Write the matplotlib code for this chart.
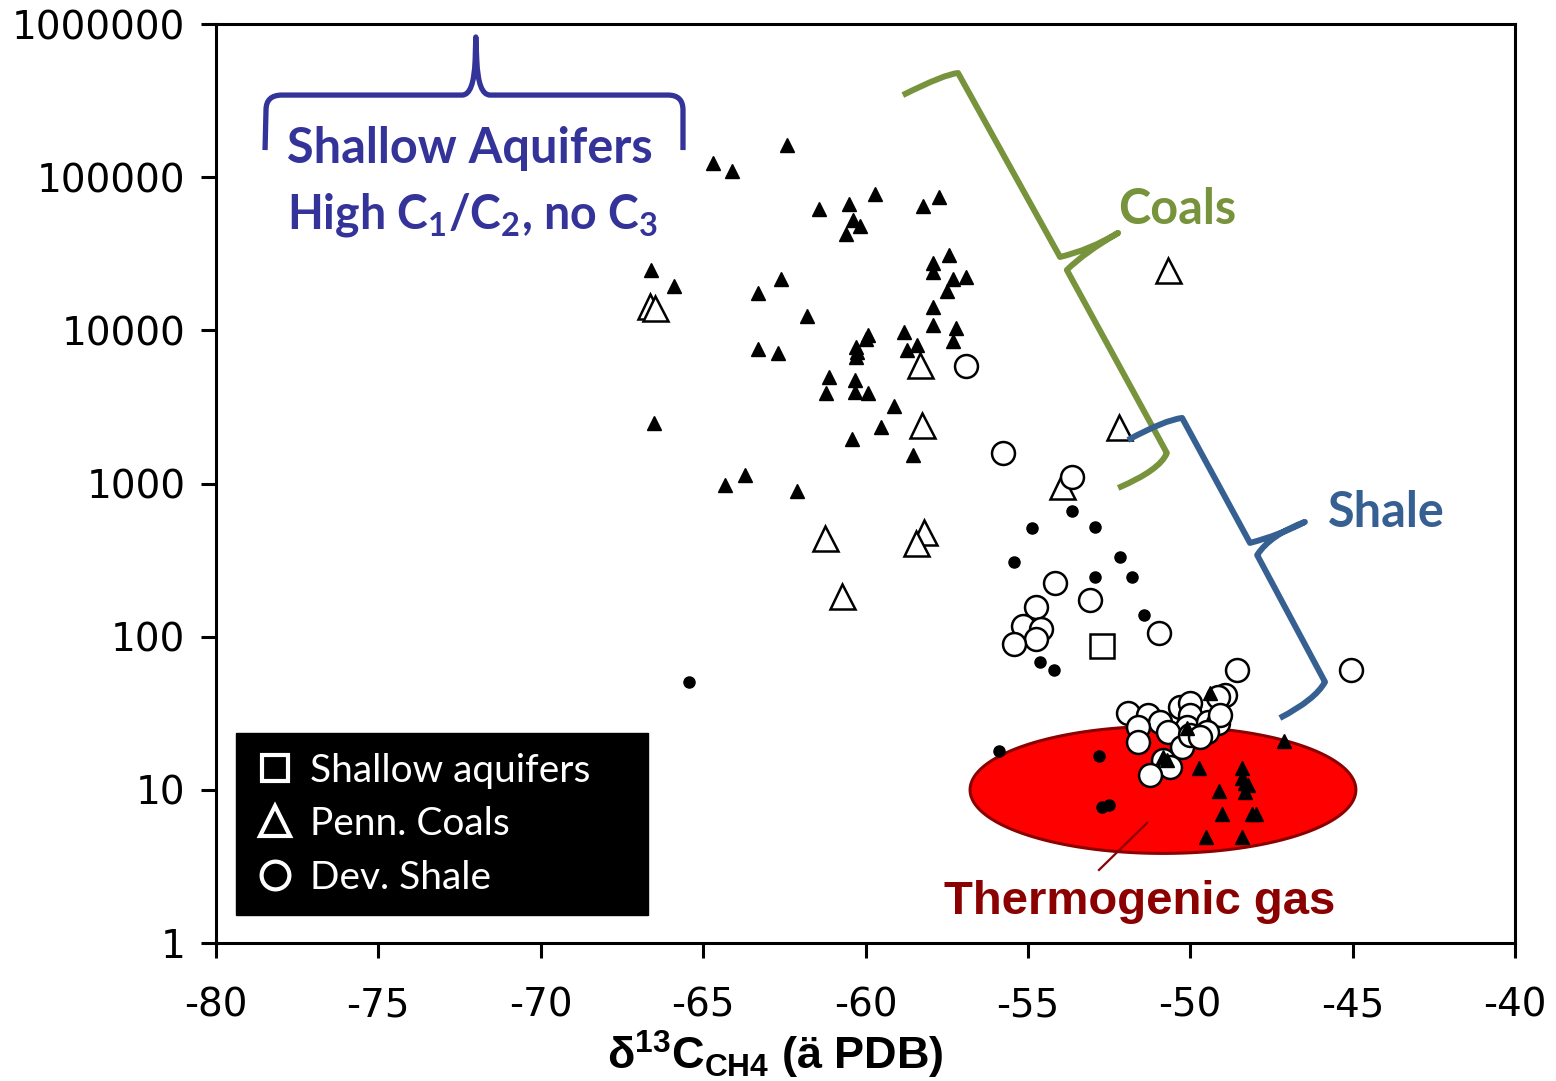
import numpy as np
import matplotlib
matplotlib.use("Agg")
import matplotlib.pyplot as plt
from matplotlib.lines import Line2D
from matplotlib.path import Path
from matplotlib.patches import PathPatch
from matplotlib.ticker import FixedLocator, FuncFormatter, NullLocator

plt.rcParams["axes.unicode_minus"] = False
plt.rcParams["mathtext.fontset"] = "custom"
plt.rcParams["mathtext.rm"] = "Lato:bold"
plt.rcParams["mathtext.bf"] = "Lato:bold"
plt.rcParams["mathtext.it"] = "Lato:bold:italic"
plt.rcParams["mathtext.sf"] = "Liberation Sans:bold"

# --- data: d13C of methane (x) vs C1/(C2+C3) ratio (y) ---
# small filled triangles
tri_x = [-62.42, -64.70, -64.11, -59.71, -61.43, -60.51, -60.38, -60.17, -60.60, -58.23,
         -57.74, -66.60, -65.90, -62.60, -63.31, -61.80, -63.31, -62.69, -57.43, -57.92,
         -57.92, -57.31, -56.91, -57.49, -57.92, -57.92, -57.21, -57.31, -58.81, -58.41,
         -58.72, -59.92, -59.98, -60.29, -60.26, -60.29, -61.12, -61.22, -60.32, -60.32,
         -59.92, -59.12, -59.52, -60.42, -58.54, -66.51, -64.33, -63.71, -62.11,
         -47.11, -49.73, -48.41, -48.41, -48.31, -48.22, -48.31, -49.11, -49.02, -48.10,
         -47.98, -49.51, -48.41, -49.39, -50.10, -50.84, -50.72]
tri_y = [162000, 123800, 109700, 77600, 62000, 66800, 52500, 48000, 42600, 64800,
         74200, 24800, 19500, 21600, 17500, 12400, 7560, 7110, 31000, 27500,
         24000, 21600, 22300, 18100, 14200, 10800, 10400, 8520, 9760, 8020,
         7440, 9330, 8780, 7780, 7220, 6700, 4960, 3900, 4740, 3960,
         3900, 3210, 2340, 1950, 1530, 2480, 977, 1140, 893,
         20.8, 13.9, 13.9, 11.9, 11.1, 10.8, 9.7, 9.8, 6.96, 6.96,
         6.96, 4.92, 4.92, 42.9, 25.4, 16.4, 15.7]

# small filled dots
dot_x = [-65.43, -53.64, -54.87, -52.93, -55.43, -52.16, -52.93, -51.79, -51.42, -54.63,
         -54.20, -55.89, -52.81, -52.72, -52.50]
dot_y = [50.6, 661, 513, 520, 307, 331, 245, 245, 139, 68.4,
         60.6, 17.9, 16.6, 7.73, 7.96]

# Penn. Coals (open triangles)
coal_x = [-66.64, -66.48, -58.32, -58.26, -61.25, -58.20, -58.44, -60.72, -53.95, -52.19, -50.68]
coal_y = [14400, 14000, 5940, 2410, 441, 482, 409, 184, 963, 2340, 24800]

# Dev. Shale (open circles)
shale_x = [-56.91, -55.77, -53.64, -54.16, -53.09, -54.75, -55.15, -54.60, -54.75, -55.43,
           -50.96, -48.56, -45.05,
           -48.93, -49.15, -51.92, -51.30, -50.93, -51.61, -50.32, -50.01, -50.01, -50.10,
           -49.45, -49.15, -49.08, -49.48, -50.68, -51.61, -50.25, -50.01, -49.70, -50.84,
           -50.62, -51.24]
shale_y = [5850, 1580, 1100, 224, 173, 156, 117, 112, 96.6, 89.6,
           106, 60.6, 60.6,
           41.6, 40.4, 31.8, 30.8, 27.7, 25.7, 34.8, 36.9, 30.8, 25.7,
           27.7, 27.3, 30.8, 23.9, 23.9, 20.5, 19.0, 22.8, 22.1, 15.7,
           14.1, 12.5]

# Shallow aquifers (open square)
aq_x = [-52.72]
aq_y = [86.9]

x_ticks = [-80, -75, -70, -65, -60, -55, -50, -45, -40]
y_ticks = [1, 10, 100, 1000, 10000, 100000, 1000000]
legend_labels = ["Shallow aquifers", "Penn. Coals", "Dev. Shale"]

# bracket outlines: (d13C, log10 ratio)
M, L, Q = Path.MOVETO, Path.LINETO, Path.CURVE3
aq_brace = [(-78.49, 5.177), (-78.46, 5.439), (-78.46, 5.536), (-77.97, 5.536), (-72.42, 5.536),
            (-72.06, 5.536), (-72.02, 5.765), (-72.00, 5.915), (-71.97, 5.765), (-71.93, 5.536),
            (-71.56, 5.536), (-66.08, 5.536), (-65.62, 5.536), (-65.62, 5.439), (-65.62, 5.177)]
aq_codes = [M, L, Q, Q, L, Q, Q, L, L, Q, Q, L, Q, Q, L]
coal_brace = [(-58.85, 5.536), (-57.55, 5.674), (-57.15, 5.680), (-54.01, 4.479), (-53.09, 4.525),
              (-52.22, 4.636), (-53.24, 4.511), (-53.80, 4.394), (-50.72, 3.199), (-50.93, 3.088),
              (-52.22, 2.971)]
shale_brace = [(-51.92, 3.284), (-50.78, 3.415), (-50.25, 3.428), (-48.16, 2.612), (-47.23, 2.664),
               (-46.47, 2.749), (-47.54, 2.664), (-47.94, 2.533), (-45.85, 1.704), (-46.16, 1.587),
               (-47.24, 1.469)]
curly_codes = [M, Q, Q, L, Q, Q, Q, Q, L, Q, Q]

fig = plt.figure(figsize=(15.56, 10.81), dpi=100)
ax = fig.add_axes([216 / 1556, 1 - 943 / 1081, 1299 / 1556, 919 / 1081])
ax.set_yscale("log")
ax.set_xlim(-80, -40)
ax.set_ylim(1, 1e6)

# thermogenic gas ellipse
t = np.linspace(0, 2 * np.pi, 200)
ax.fill(-50.84 + 5.94 * np.cos(t), 10 ** (1.0 + 0.415 * np.sin(t)),
        fc="#ff0000", ec="#8b0000", lw=2.2, zorder=1)
ax.plot([-52.81, -51.33], [10 ** 0.477, 10 ** 0.7835], color="#8b0000", lw=1.6, zorder=1)

ax.plot(dot_x, dot_y, ls="none", marker="o", ms=8, color="black", zorder=3)
ax.plot(coal_x, coal_y, ls="none", marker="^", ms=18, mfc="white", mec="black", mew=1.8, zorder=4)
ax.plot(shale_x, shale_y, ls="none", marker="o", ms=16.5, mfc="white", mec="black", mew=1.8, zorder=4)
ax.plot(aq_x, aq_y, ls="none", marker="s", ms=17, mfc="white", mec="black", mew=1.8, zorder=4)
ax.plot(tri_x, tri_y, ls="none", marker="^", ms=9.5, color="black", zorder=5)


def brace(pts, codes, color, lw):
    verts = [(x, 10 ** lg) for x, lg in pts]
    ax.add_patch(PathPatch(Path(verts, codes), fill=False, ec=color, lw=lw,
                           capstyle="butt", joinstyle="round", zorder=6))


brace(aq_brace, aq_codes, "#333399", 3.8)
brace(coal_brace, curly_codes, "#77933c", 4.3)
brace(shale_brace, curly_codes, "#376092", 4.3)

lab = dict(fontfamily="Lato", fontweight="bold", fontsize=35)
ax.text(-77.81, 10 ** 5.0925, "Shallow Aquifers", color="#333399", ha="left", va="baseline", **lab)
ax.text(-77.81, 10 ** 4.668, r"High C$_{1}$/C$_{2}$, no C$_{3}$", color="#333399",
        ha="left", va="baseline", fontfamily="Lato", fontweight="bold", fontsize=33.5)
ax.text(-50.41, 10 ** 4.694, "Coals", color="#77933c", ha="center", va="baseline", **lab)
ax.text(-43.97, 10 ** 2.716, "Shale", color="#376092", ha="center", va="baseline", **lab)
ax.text(-51.55, 10 ** 0.189, "Thermogenic gas", color="#8b0000", ha="center", va="baseline",
        fontfamily="Liberation Sans", fontweight="bold", fontsize=34)

ax.xaxis.set_major_locator(FixedLocator(x_ticks))
ax.yaxis.set_major_locator(FixedLocator(y_ticks))
ax.yaxis.set_minor_locator(NullLocator())
ax.xaxis.set_major_formatter(FuncFormatter(lambda v, p: f"{int(round(v))}"))
ax.yaxis.set_major_formatter(FuncFormatter(lambda v, p: f"{int(round(v))}"))
ax.tick_params(axis="both", direction="out", length=11, width=2.2, labelsize=28)
ax.tick_params(axis="x", pad=20)
ax.tick_params(axis="y", pad=11)
for s in ax.spines.values():
    s.set_linewidth(2.2)

fig.text(775 / 1556, 1 - 1055 / 1081, r"$\mathsf{\delta^{13}C_{CH4}}$ (ä PDB)",
         ha="center", va="center", fontfamily="Liberation Sans", fontweight="bold", fontsize=32.5)

handles = [
    Line2D([], [], ls="none", marker="s", ms=19, mfc="none", mec="white", mew=3),
    Line2D([], [], ls="none", marker="^", ms=21, mfc="none", mec="white", mew=3),
    Line2D([], [], ls="none", marker="o", ms=20, mfc="none", mec="white", mew=3),
]
ax.legend(handles, legend_labels, loc="lower left", mode="expand",
          bbox_to_anchor=(20 / 1299, 28 / 919, 412 / 1299, 185 / 919), borderaxespad=0,
          frameon=True, facecolor="black", edgecolor="black", framealpha=1, fancybox=False,
          prop={"family": "Lato", "size": 28}, labelcolor="white",
          handlelength=1.0, handletextpad=0.4, labelspacing=0.45, borderpad=0.5)

fig.savefig("out.png", dpi=100)
